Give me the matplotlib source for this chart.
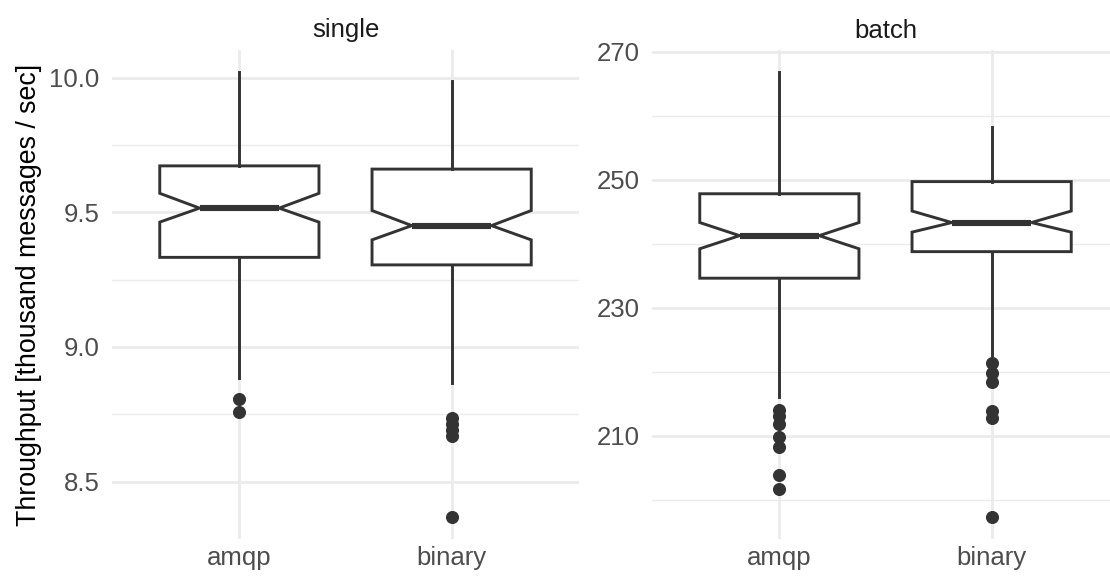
import matplotlib
matplotlib.use("Agg")
import matplotlib.pyplot as plt
from matplotlib.ticker import FixedLocator

plt.rcParams['font.family'] = ['Liberation Sans', 'DejaVu Sans']

categories = ["amqp", "binary"]
panels = ["single", "batch"]

single_q1 = [9.333, 9.305]
single_med = [9.516, 9.451]
single_q3 = [9.673, 9.661]
single_cilo = [9.464, 9.398]
single_cihi = [9.571, 9.507]
single_whislo = [8.885, 8.866]
single_whishi = [10.021, 9.990]
single_fliers = [[8.807, 8.760], [8.737, 8.713, 8.691, 8.669, 8.369]]

batch_q1 = [234.6, 238.75]
batch_med = [241.25, 243.3]
batch_q3 = [247.8, 249.7]
batch_cilo = [239.2, 241.8]
batch_cihi = [243.3, 245.1]
batch_whislo = [216.1, 222.6]
batch_whishi = [266.8, 258.3]
batch_fliers = [[214.0, 213.0, 211.8, 209.75, 208.2, 203.9, 201.7],
                [221.3, 219.75, 218.3, 213.9, 212.7, 197.3]]

single_major = [8.5, 9.0, 9.5, 10.0]
single_major_labels = ["8.5", "9.0", "9.5", "10.0"]
single_minor = [8.75, 9.25, 9.75]
batch_major = [210, 230, 250, 270]
batch_major_labels = ["210", "230", "250", "270"]
batch_minor = [200, 220, 240, 260]

ylabel = "Throughput [thousand messages / sec]"

W, H = 1110, 577
DPI = 100
fig = plt.figure(figsize=(W / DPI, H / DPI), dpi=DPI)

LINE = "#333333"
GRID = "#EBEBEB"

def make_stats(q1, med, q3, cilo, cihi, wlo, whi, fl):
    out = []
    for i in range(len(q1)):
        out.append(dict(q1=q1[i], med=med[i], q3=q3[i], cilo=cilo[i], cihi=cihi[i],
                        whislo=wlo[i], whishi=whi[i], fliers=fl[i], label=categories[i]))
    return out

specs = [
    (panels[0], make_stats(single_q1, single_med, single_q3, single_cilo, single_cihi,
                           single_whislo, single_whishi, single_fliers),
     single_major, single_major_labels, single_minor),
    (panels[1], make_stats(batch_q1, batch_med, batch_q3, batch_cilo, batch_cihi,
                           batch_whislo, batch_whishi, batch_fliers),
     batch_major, batch_major_labels, batch_minor),
]

lefts = [112, 652]
pw = 467
top, bottom = 50, 539

for k, (title, stats, major, mlabels, minor) in enumerate(specs):
    ax = fig.add_axes([lefts[k] / W, 1 - bottom / H, pw / W, (bottom - top) / H])
    ax.set_facecolor("white")
    for s in ax.spines.values():
        s.set_visible(False)
    pos = list(range(1, len(categories) + 1))
    ax.bxp(stats, positions=pos, widths=0.75, shownotches=True, showcaps=False,
           patch_artist=True,
           boxprops=dict(facecolor="white", edgecolor=LINE, linewidth=2.1),
           whiskerprops=dict(color=LINE, linewidth=2.1),
           medianprops=dict(color=LINE, linewidth=4.4, solid_capstyle="butt"),
           flierprops=dict(marker="o", markerfacecolor=LINE, markeredgecolor=LINE,
                           markersize=8.4, linestyle="none"),
           zorder=3)
    allv = []
    for s in stats:
        allv += [s["whislo"], s["whishi"]] + list(s["fliers"])
    lo, hi = min(allv), max(allv)
    ex = (hi - lo) * 0.05
    ax.set_ylim(lo - ex, hi + ex)
    ax.set_xlim(0.4, len(categories) + 0.6)
    ax.yaxis.set_major_locator(FixedLocator(major))
    ax.set_yticklabels(mlabels)
    ax.yaxis.set_minor_locator(FixedLocator(minor))
    ax.set_xticks(pos)
    ax.set_xticklabels(categories)
    ax.grid(True, which="major", color=GRID, linewidth=2.0, zorder=0)
    ax.grid(True, which="minor", axis="y", color=GRID, linewidth=1.0, zorder=0)
    ax.set_axisbelow(True)
    ax.tick_params(which="both", length=0)
    ax.tick_params(axis="y", pad=9, labelsize=18.5, labelcolor="#4D4D4D")
    ax.tick_params(axis="x", pad=5, labelsize=18.5, labelcolor="#4D4D4D")
    ax.set_title(title, fontsize=18.5, color="#1A1A1A", pad=9)
    if k == 0:
        ax.set_ylabel(ylabel, fontsize=19.3, color="black", labelpad=5)

fig.savefig("out.png", dpi=DPI, facecolor="white")
